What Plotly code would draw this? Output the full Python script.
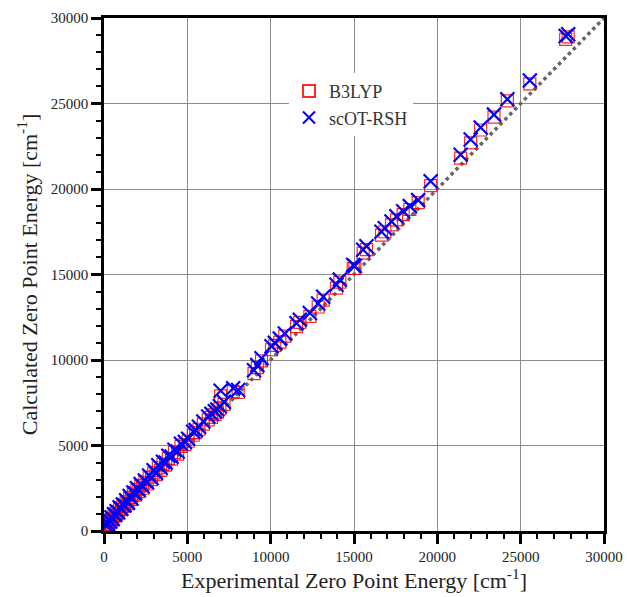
import plotly.graph_objects as go

exp_zpe = [
    120, 180, 250, 310, 380, 450, 520, 600, 680, 760,
    850, 940, 1040, 1130, 1230, 1330, 1440, 1540, 1650, 1760,
    1870, 1980, 2090, 2200, 2320, 2450, 2580, 2710, 2850, 2980,
    3120, 3260, 3400, 3540, 3700, 3860, 4050, 4230, 4420, 4620,
    4850, 5050, 5350, 5500, 5700, 5960, 6250, 6450, 6650, 6800,
    6950, 7000, 7200, 7750, 8050, 9000, 9200, 9450, 10050, 10250,
    10550, 10850, 11550, 11750, 12350, 12850, 13150, 13950, 14150, 14950,
    15050, 15550, 15750, 16650, 16850, 17250, 17550, 17950, 18350, 18850,
    19600, 21400, 22000, 22600, 23400, 24200, 25550, 27700, 27850,
]

scot_rsh = [
    330, 480, 420, 650, 560, 800, 700, 980, 950, 1150,
    1100, 1380, 1300, 1550, 1500, 1800, 1650, 2050, 1900, 2250,
    2200, 2500, 2400, 2750, 2600, 2950, 2850, 3250, 3100, 3550,
    3400, 3850, 3700, 4050, 4000, 4400, 4350, 4750, 4650, 5100,
    5200, 5400, 5800, 5900, 6100, 6400, 6700, 6850, 7000, 7100,
    7300, 8200, 7550, 8350, 8250, 9400, 9700, 10100, 10800, 11000,
    11250, 11550, 12150, 12350, 12750, 13300, 13700, 14400, 14700, 15550,
    15500, 16450, 16650, 17500, 17700, 18100, 18400, 18700, 19000, 19350,
    20450, 22000, 22900, 23600, 24350, 25250, 26350, 28950, 29050,
]

b3lyp = [
    250, 380, 400, 560, 520, 700, 650, 880, 900, 1050,
    1050, 1280, 1250, 1450, 1450, 1700, 1600, 1950, 1850, 2150,
    2100, 2400, 2300, 2650, 2500, 2850, 2750, 3150, 3000, 3400,
    3300, 3700, 3550, 3900, 3850, 4250, 4200, 4600, 4500, 4950,
    5050, 5250, 5600, 5750, 5950, 6250, 6500, 6650, 6800, 6950,
    7150, 7900, 7400, 8150, 8100, 9200, 9550, 9950, 10600, 10850,
    11050, 11400, 11950, 12200, 12550, 13100, 13500, 14200, 14550, 15350,
    15350, 16250, 16450, 17300, 17500, 17900, 18200, 18500, 18800, 19200,
    20200, 21800, 22700, 23450, 24200, 25150, 26150, 28750, 28900,
]

diag = [0, 30000]
tick_vals = [0, 5000, 10000, 15000, 20000, 25000, 30000]
tick_text = ["0", "5000", "10000", "15000", "20000", "25000", "30000"]

SERIF = "Liberation Serif, DejaVu Serif, serif"

fig = go.Figure()
fig.add_trace(go.Scatter(
    x=diag, y=diag, mode="lines", showlegend=False, hoverinfo="skip",
    line=dict(color="#666666", width=3.5, dash="dot"),
))
fig.add_trace(go.Scatter(
    x=exp_zpe, y=b3lyp, mode="markers", name="B3LYP",
    marker=dict(symbol="square-open", size=12, color="rgba(255,0,0,0.85)",
                line=dict(width=1.2, color="rgba(255,0,0,0.85)")),
))
fig.add_trace(go.Scatter(
    x=exp_zpe, y=scot_rsh, mode="markers", name="scOT-RSH",
    marker=dict(symbol="x-thin-open", size=14, color="blue",
                line=dict(width=2.2, color="blue")),
))

axis_common = dict(
    range=[0, 30000], tickvals=tick_vals, ticktext=tick_text,
    showgrid=True, gridcolor="#8c8c8c", gridwidth=1,
    showline=True, linecolor="black", linewidth=2.5, mirror=True,
    ticks="outside", ticklen=10, tickwidth=2.5, tickcolor="black",
    minor=dict(dtick=1000, ticks="outside", ticklen=5, tickwidth=1.5,
               tickcolor="black", showgrid=False),
    zeroline=False, automargin=False,
    tickfont=dict(family=SERIF, size=15, color="#222222"),
)

fig.update_layout(
    width=627, height=597,
    margin=dict(l=104, r=23, t=18, b=66),
    plot_bgcolor="white", paper_bgcolor="white",
    xaxis=dict(**axis_common,
               title=dict(text="Experimental Zero Point Energy [cm<sup>-1</sup>]",
                          font=dict(family=SERIF, size=22, color="#222222"),
                          standoff=8)),
    yaxis=dict(**axis_common,
               title=dict(text="Calculated Zero Point Energy [cm<sup>-1</sup>]",
                          font=dict(family=SERIF, size=22, color="#222222"),
                          standoff=8)),
    legend=dict(x=0.37, y=0.893, xanchor="left", yanchor="top",
                bgcolor="white", borderwidth=0,
                font=dict(family=SERIF, size=18, color="#333333"),
                tracegroupgap=2, itemsizing="constant"),
    showlegend=True,
)

fig.write_html("out.html", config={"displayModeBar": False},
               post_script="document.body.style.margin='0';document.body.style.overflow='hidden';")
